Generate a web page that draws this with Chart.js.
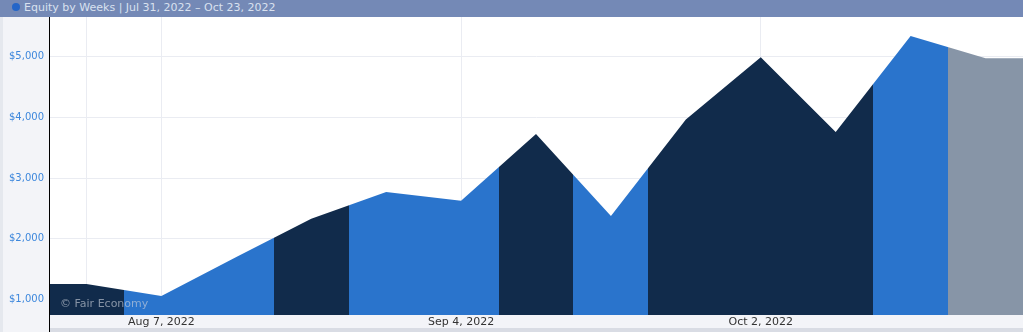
<!DOCTYPE html>
<html>
<head>
<meta charset="utf-8">
<script src="https://cdn.jsdelivr.net/npm/chart.js@4/dist/chart.umd.min.js"></script>
<style>
  html, body { margin:0; padding:0; width:1023px; height:332px; overflow:hidden; background:#f3f4f8; font-family:"DejaVu Sans", Verdana, sans-serif; }
  #hdr { position:absolute; left:0; top:0; width:1023px; height:17px; background:#7489b6; color:#d9e1ef; font-size:11px; line-height:15px; white-space:nowrap; }
  #hdr .dot { position:absolute; left:12px; top:3px; width:8px; height:8px; border-radius:50%; background:#2566c8; }
  #hdr .txt { position:absolute; left:24px; top:0; }
  #strip { position:absolute; left:0; top:17px; width:3px; height:315px; background:#e5e8ee; }
  #wrap { position:absolute; left:0; top:17px; width:1023px; height:315px; }
  #wm { position:absolute; left:60px; top:297px; font-size:11px; line-height:14px; color:rgba(205,210,220,0.62); white-space:nowrap; pointer-events:none; }
</style>
</head>
<body>
<div id="hdr"><span class="dot"></span><span class="txt">Equity by Weeks | Jul 31, 2022 – Oct 23, 2022</span></div>
<div id="strip"></div>
<div id="wrap"><canvas id="c"></canvas></div>
<div id="wm">© Fair Economy</div>
<script>
// ---- data ----
const weeks = ['Jul 31, 2022','Aug 7, 2022','Aug 14, 2022','Aug 21, 2022','Aug 28, 2022','Sep 4, 2022',
               'Sep 11, 2022','Sep 18, 2022','Sep 25, 2022','Oct 2, 2022','Oct 9, 2022','Oct 16, 2022','Oct 23, 2022'];
const equity = [1255, 1058, 1700, 2330, 2771, 2627, 3726, 2375, 3965, 4990, 3759, 5340, 4975];
// week type: L / W / C (current week)
const weekType = ['L','W','W','L','W','W','L','W','L','L','L','W','C'];
const gridWeeks = ['Jul 31, 2022','Aug 7, 2022','Sep 4, 2022','Oct 2, 2022'];
const labelWeeks = ['Aug 7, 2022','Sep 4, 2022','Oct 2, 2022'];
const yTicks = [1000, 2000, 3000, 4000, 5000];

// ---- styles ----
const typeColor = { W:'#2a74cc', L:'#112b4b', C:'#8795a7' };

const points = [{x:-0.5, y:equity[0]}]
  .concat(equity.map((v,i)=>({x:i, y:v})))
  .concat([{x:weeks.length-0.5, y:equity[equity.length-1]}]);

function bandGradient(ctx){
  const chart = ctx.chart;
  if (!chart.chartArea) return typeColor.W;
  const xs = chart.scales.x;
  const L = xs.left, R = xs.right, W = R - L;
  const g = chart.ctx.createLinearGradient(L, 0, R, 0);
  const cl = t => Math.max(0, Math.min(1, t));
  weekType.forEach((t,i)=>{
    const s = cl((xs.getPixelForValue(i-0.5)-L)/W);
    const e = cl((xs.getPixelForValue(i+0.5)-L)/W);
    g.addColorStop(s, typeColor[t]);
    g.addColorStop(e, typeColor[t]);
  });
  return g;
}

const decor = {
  id:'decor',
  beforeDraw(chart){
    const {ctx, chartArea:a} = chart;
    ctx.save();
    ctx.fillStyle = '#ffffff';
    ctx.fillRect(a.left, a.top, a.right-a.left, a.bottom-a.top);
    ctx.restore();
  },
  afterDraw(chart){
    const {ctx, chartArea:a, height} = chart;
    ctx.save();
    ctx.fillStyle = '#d9dce4';
    ctx.fillRect(a.left, height-4, a.right-a.left, 4);
    ctx.fillStyle = '#000000';
    ctx.fillRect(Math.floor(a.left), a.top, 1, height-a.top);
    ctx.restore();
  }
};

function noPad(s){ s.paddingTop = 0; s.paddingBottom = 0; s.paddingLeft = 0; s.paddingRight = 0; }

new Chart(document.getElementById('c'), {
  type:'line',
  data:{ datasets:[{
    data: points,
    fill:'start',
    backgroundColor: bandGradient,
    borderWidth:0,
    pointRadius:0,
    tension:0
  }]},
  options:{
    responsive:true,
    maintainAspectRatio:false,
    animation:false,
    events:[],
    layout:{ padding:0 },
    plugins:{ legend:{display:false}, tooltip:{enabled:false} },
    scales:{
      x:{
        type:'linear',
        min:-0.5, max:weeks.length-0.5,
        afterBuildTicks(s){ s.ticks = gridWeeks.map(w=>({value:weeks.indexOf(w)})); },
        afterFit(s){ s.height = 17; noPad(s); },
        ticks:{
          autoSkip:false, maxRotation:0,
          padding:1,
          color:'#333333',
          font:{family:'"DejaVu Sans", Verdana, sans-serif', size:11},
          callback(v){ const w = weeks[v]; return labelWeeks.includes(w) ? w : ''; }
        },
        grid:{ color:'#eaecf2', drawTicks:false },
        border:{ display:false }
      },
      y:{
        min:745, max:5654,
        afterBuildTicks(s){ s.ticks = yTicks.map(v=>({value:v})); },
        afterFit(s){ s.width = 49; noPad(s); },
        ticks:{
          padding:5,
          color:'#3d87dc',
          font:{family:'"DejaVu Sans", Verdana, sans-serif', size:10},
          callback(v){ return '$' + v.toLocaleString('en-US'); }
        },
        grid:{ color:'#eaecf2', drawTicks:false },
        border:{ display:true, color:'#000000', width:1 }
      }
    }
  },
  plugins:[decor]
});
</script>
</body>
</html>
